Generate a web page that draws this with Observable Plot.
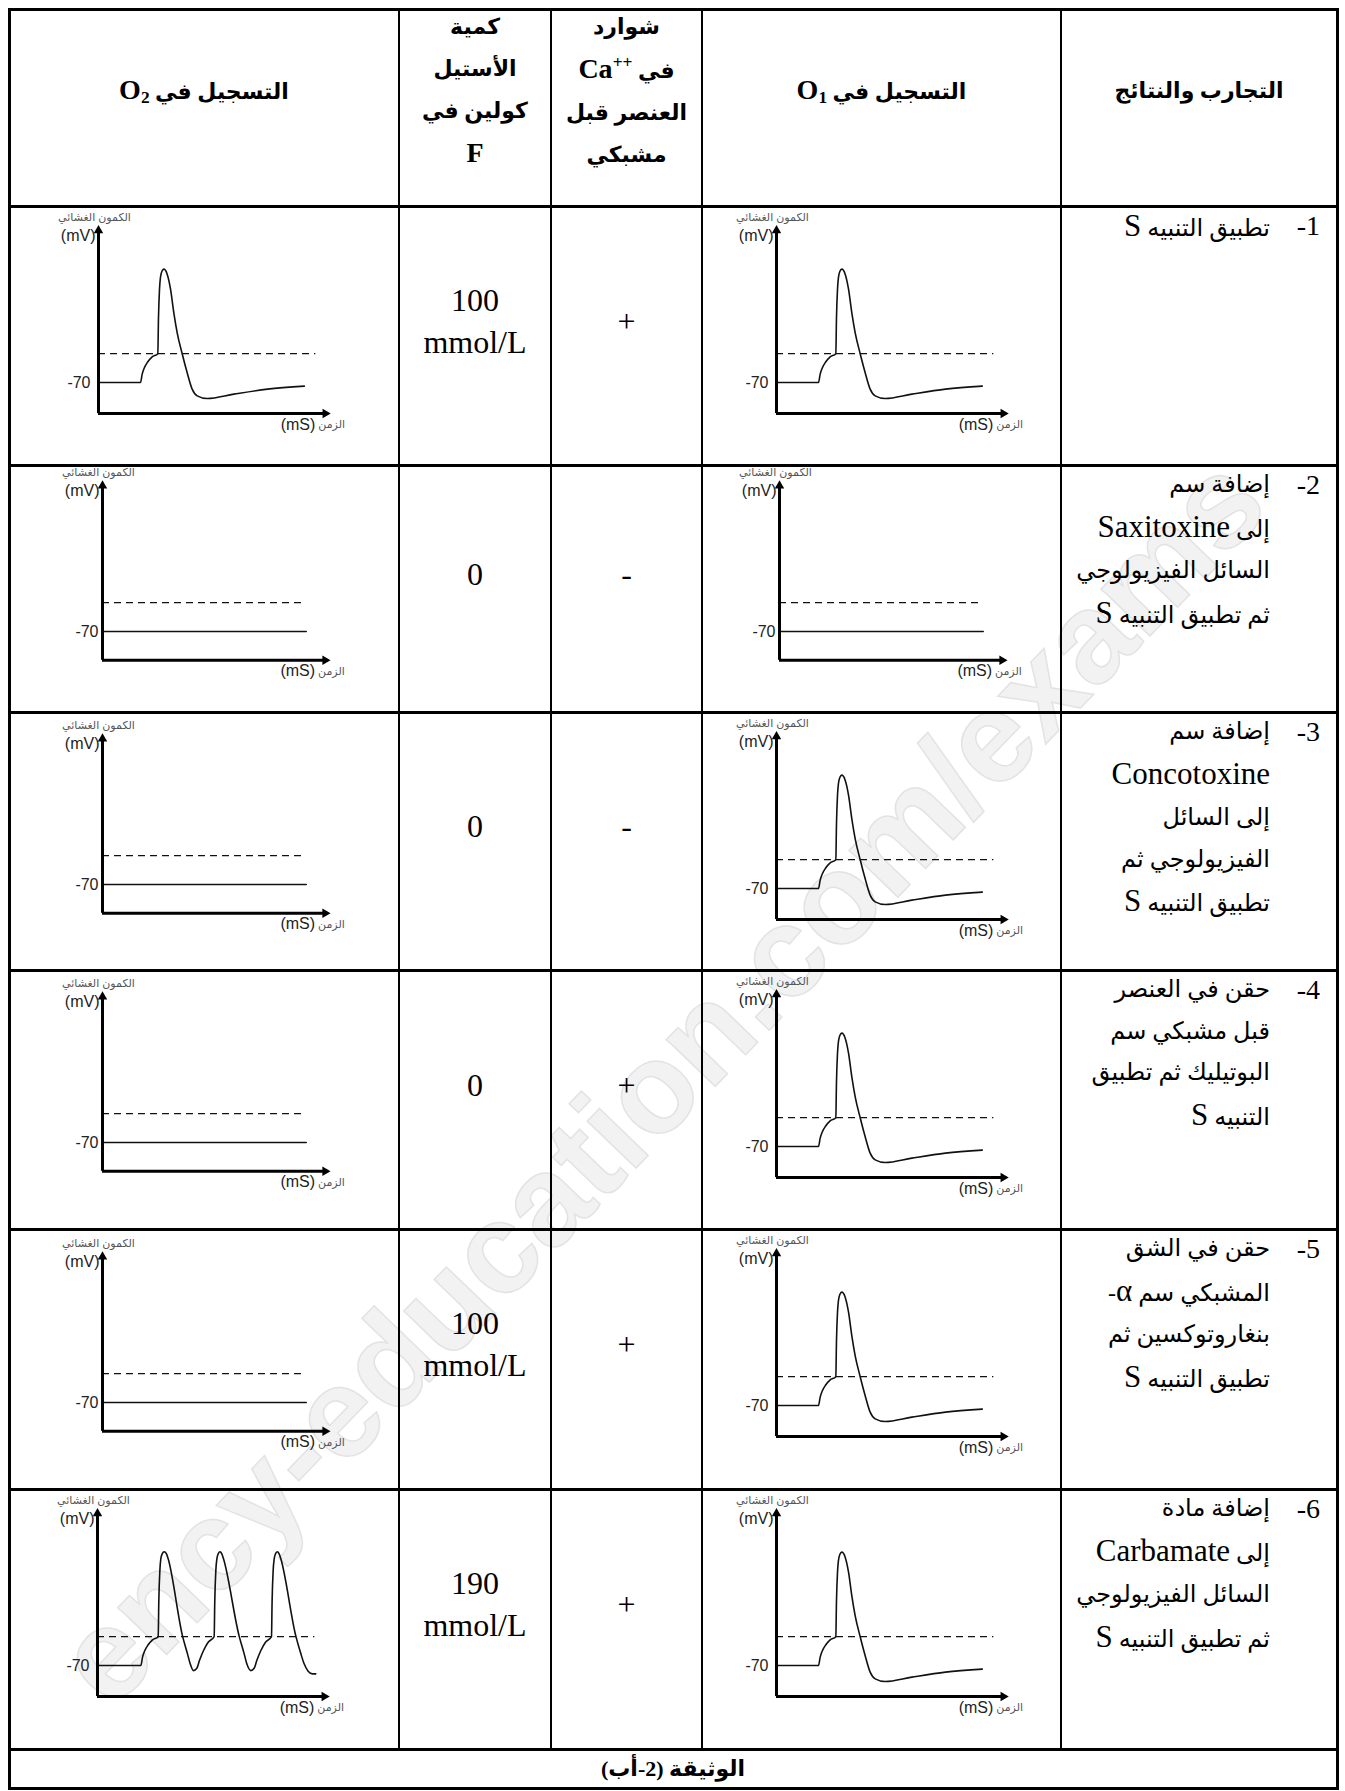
<!DOCTYPE html>
<html lang="ar">
<head>
<meta charset="utf-8">
<script src="https://cdn.jsdelivr.net/npm/d3@7"></script>
<script src="https://cdn.jsdelivr.net/npm/@observablehq/plot@0.6"></script>
<style>
html,body{margin:0;padding:0;background:#fff;}
#page{position:relative;width:1345px;height:1791px;overflow:hidden;background:#fff;
  font-family:"Liberation Serif","DejaVu Sans",serif;color:#000;}
.ln{position:absolute;background:#000;}
.box{position:absolute;box-sizing:border-box;display:flex;flex-direction:column;align-items:center;justify-content:center;text-align:center;}
.box > div{display:block;}
.hdr{font-weight:bold;font-size:22px;line-height:42px;direction:rtl;}
.hdr .lat{font-size:28px;}
.mid{font-size:32px;line-height:42px;}
.exp{position:absolute;direction:rtl;text-align:right;font-size:24px;line-height:41.5px;white-space:nowrap;}
.exp .lat{font-size:31px;}
.num{position:absolute;font-size:28px;line-height:41.5px;direction:ltr;}
.chart{position:absolute;}
.foot{font-weight:bold;font-size:22px;direction:rtl;}
.wm{position:absolute;left:660px;top:1080px;transform:translate(-50%,-50%) rotate(-46deg);
  font-family:"Liberation Sans",sans-serif;font-weight:bold;font-size:128px;line-height:1;white-space:nowrap;
  color:#f2f2f2;-webkit-text-stroke:1.5px #e3e3e3;}
sub{font-size:62%;vertical-align:-0.22em;line-height:0;}
sup{font-size:62%;vertical-align:0.6em;line-height:0;}
</style>
</head>
<body>
<div id="page"></div>
<script>
// ---------------- data ----------------
const headerCells = [
  "التسجيل في <span class=\"lat\">O<sub>2</sub></span>",
  "كمية<br>الأستيل<br>كولين في<br><span class=\"lat\">F</span>",
  "شوارد<br>في <span dir=\"ltr\" class=\"lat\">Ca<sup>++</sup></span><br>العنصر قبل<br>مشبكي",
  "التسجيل في <span class=\"lat\">O<sub>1</sub></span>",
  "التجارب والنتائج"
];
const experimentNumbers = ["-1", "-2", "-3", "-4", "-5", "-6"];
const experimentLines = [
  ["تطبيق التنبيه S"],
  ["إضافة سم", "إلى Saxitoxine", "السائل الفيزيولوجي", "ثم تطبيق التنبيه S"],
  ["إضافة سم", "Concotoxine", "إلى السائل", "الفيزيولوجي ثم", "تطبيق التنبيه S"],
  ["حقن في العنصر", "قبل مشبكي سم", "البوتيليك ثم تطبيق", "التنبيه S"],
  ["حقن في الشق", "المشبكي سم α-", "بنغاروتوكسين ثم", "تطبيق التنبيه S"],
  ["إضافة مادة", "إلى Carbamate", "السائل الفيزيولوجي", "ثم تطبيق التنبيه S"]
];
const calciumIons = ["+", "-", "-", "+", "+", "+"];
const acetylcholine = [["100", "mmol/L"], ["0"], ["0"], ["0"], ["100", "mmol/L"], ["190", "mmol/L"]];
const recordingO1 = ["ap", "flat", "ap", "ap", "ap", "ap"];
const recordingO2 = ["ap", "flat", "flat", "flat", "flat", "train"];
const footerText = "الوثيقة (2-أب)";
const watermarkText = "ency-education.com/exams";

const restingPotential = -70;
const thresholdPotential = -44.5;
const restLabel = "-70";
const yAxisTitle = "الكمون الغشائي";
const yAxisUnit = "(mV)";
const xAxisTitle = "الزمن";
const xAxisUnit = "(mS)";

// [time (ms, schematic), membrane potential (mV)]
const singleSpike = [
  [0, -70], [4.0, -70], [4.16, -62.6], [4.38, -56.7], [4.7, -51.7], [5.11, -47.3], [5.65, -44.5],
  [5.71, -14], [5.81, 12.6], [5.9, 22.9], [6.03, 28.2], [6.22, 30.3], [6.54, 25.9], [6.86, 12.6],
  [7.17, -8.1], [7.49, -25.8], [7.97, -44.6], [8.44, -61.2], [8.92, -75.9], [9.4, -81.8],
  [10.35, -84.2], [12.89, -80.3], [16.1, -75.9], [19.6, -73.2]
];
const spikeTrain = [
  [0, -70], [4.13, -70], [4.29, -62.6], [4.51, -56.7], [4.83, -51.7], [5.24, -47.3], [5.78, -44.5],
  [5.84, -12.5], [5.94, 14.1], [6.03, 24.4], [6.16, 28.8], [6.35, 30.6], [6.57, 28.8], [6.73, 24.4],
  [8.1, -44], [8.57, -59.7], [8.83, -68.5], [9.14, -74.5], [9.46, -72.5], [9.71, -65.6], [10.1, -56.7],
  [10.54, -49.4], [11.11, -44.5],
  [11.17, -12.5], [11.27, 14.1], [11.37, 24.4], [11.49, 28.8], [11.65, 30.6], [11.84, 28.8], [12.0, 24.4],
  [13.49, -44], [13.97, -59.7], [14.22, -68.5], [14.6, -74.5], [14.92, -72.5], [15.17, -65.6], [15.56, -56.7],
  [16.0, -49.4], [16.57, -44.5],
  [16.63, -12.5], [16.73, 14.1], [16.83, 24.4], [16.95, 28.8], [17.11, 30.6], [17.3, 28.8], [17.46, 24.4],
  [18.89, -44], [19.37, -59.7], [19.68, -68.5], [20.06, -75], [20.48, -77.4], [20.79, -77.4]
];
const flatTrace = [[0, -70], [19.4, -70]];

// ---------------- layout ----------------
const colX = [9, 399, 551, 702, 1061, 1337];
const rowY = [9, 206, 465, 712, 970, 1229, 1489, 1749, 1788];
const K = 1.13;   // px per mV
const SX = 10.5;  // px per ms
const AP_T = {yTop: 64.5, yBottom: -97.5, xEnd: 21.6, dashEnd: 20.7, tickDx: -8};
const FLAT_T = {yTop: 59, yBottom: -95.5, xEnd: 21.2, dashEnd: 19.4, tickDx: -4};
const flatRest = [0, 166, 172, 172, 173, 0];

const page = document.getElementById("page");
function add(cls, css, html) {
  const d = document.createElement("div");
  d.className = cls;
  Object.assign(d.style, css);
  if (html != null) d.innerHTML = html;
  page.appendChild(d);
  return d;
}
function latin(s) {
  return s.replace(/α/g, "<span class=\"lat\">α</span>")
          .replace(/(^|[\s])([A-Za-z]+)(?=$|[\s])/g, "$1<span class=\"lat\">$2</span>");
}

function recording(kind, trace, w, h, ax, ry) {
  const tpl = kind === "flat" ? FLAT_T : AP_T;
  const lab = {fontFamily: "Liberation Sans, Arial, DejaVu Sans, sans-serif"};
  return Plot.plot({
    width: w, height: h, margin: 0,
    style: {background: "transparent", overflow: "visible"},
    x: {domain: [0, 22], range: [ax, ax + 22 * SX], axis: null},
    y: {domain: [-100, 70], range: [ry + 30 * K, ry - 140 * K], axis: null},
    marks: [
      Plot.ruleY([thresholdPotential], {x1: 0, x2: tpl.dashEnd, stroke: "#111", strokeWidth: 1.2, strokeDasharray: "7,5"}),
      Plot.line(trace, {x: d => d[0], y: d => d[1], curve: "monotone-x", stroke: "#111", strokeWidth: 1.6}),
      Plot.ruleX([0], {y1: tpl.yBottom, y2: tpl.yTop, stroke: "#000", strokeWidth: 3}),
      Plot.ruleY([tpl.yBottom], {x1: 0, x2: tpl.xEnd, stroke: "#000", strokeWidth: 3}),
      Plot.dot([tpl.yTop], {x: 0, y: d => d, symbol: "triangle", r: 3.5, fill: "#000", stroke: "none"}),
      Plot.dot([tpl.xEnd], {x: d => d, y: tpl.yBottom, symbol: "triangle", r: 3.5, fill: "#000", stroke: "none", rotate: 90}),
      Plot.text([yAxisTitle], {x: 0, y: tpl.yTop, text: d => d, dx: -4, dy: -13, fontSize: 11, fill: "#555", textAnchor: "middle", ...lab}),
      Plot.text([yAxisUnit], {x: 0, y: tpl.yTop, text: d => d, dx: -3, dy: 5, fontSize: 16, fill: "#222", textAnchor: "end", ...lab}),
      Plot.text([restLabel], {x: 0, y: restingPotential, text: d => d, dx: tpl.tickDx, fontSize: 16, fill: "#222", textAnchor: "end", ...lab}),
      Plot.text([xAxisUnit], {x: tpl.xEnd, y: tpl.yBottom, text: d => d, dx: -10, dy: 11, fontSize: 16, fill: "#222", textAnchor: "end", ...lab}),
      Plot.text([xAxisTitle], {x: tpl.xEnd, y: tpl.yBottom, text: d => d, dx: -7, dy: 11, fontSize: 11, fill: "#555", textAnchor: "start", ...lab})
    ]
  });
}

function traceFor(kind) {
  return kind === "ap" ? singleSpike : kind === "train" ? spikeTrain : flatTrace;
}

function placeChart(kind, col, r, axRel, restRel) {
  const left = colX[col] + 2, top = rowY[r + 1] + 2;
  const w = colX[col + 1] - colX[col] - 4, h = rowY[r + 2] - rowY[r + 1] - 4;
  const holder = add("chart", {left: left + "px", top: top + "px", width: w + "px", height: h + "px"});
  holder.appendChild(recording(kind, traceFor(kind), w, h, axRel - 2, restRel - 2));
}

// faint background watermark of the source page
add("wm", {}, watermarkText);

// header
headerCells.forEach((html, c) => {
  add("box hdr", {
    left: colX[c] + "px", top: rowY[0] + "px",
    width: (colX[c + 1] - colX[c]) + "px", height: (rowY[1] - rowY[0]) + "px",
    paddingBottom: "34px"
  }, "<div>" + html + "</div>");
});

// rows
for (let r = 0; r < 6; r++) {
  const top = rowY[r + 1], h = rowY[r + 2] - rowY[r + 1];
  const k2 = recordingO2[r];
  placeChart(k2, 0, r, k2 === "flat" ? 93 : k2 === "train" ? 88 : 89, k2 === "flat" ? flatRest[r] : 176);
  add("box mid", {left: colX[1] + "px", top: top + "px", width: (colX[2] - colX[1]) + "px", height: h + "px", paddingBottom: "30px"},
    "<div>" + acetylcholine[r].join("<br>") + "</div>");
  add("box mid", {left: colX[2] + "px", top: top + "px", width: (colX[3] - colX[2]) + "px", height: h + "px", paddingBottom: "30px"},
    "<div>" + calciumIons[r] + "</div>");
  const k1 = recordingO1[r];
  placeChart(k1, 3, r, k1 === "flat" ? 77 : 74, k1 === "flat" ? flatRest[r] : 176);
  add("num", {right: (1345 - 1320) + "px", top: (top - 1) + "px"}, experimentNumbers[r]);
  add("exp", {right: (1345 - 1270) + "px", top: (top - 1) + "px"},
    experimentLines[r].map(s => "<div>" + latin(s) + "</div>").join(""));
}

// footer
add("box foot", {left: colX[0] + "px", top: rowY[7] + "px", width: (colX[5] - colX[0]) + "px", height: (rowY[8] - rowY[7]) + "px"},
  "<div>" + footerText + "</div>");

// grid lines
rowY.forEach(y => add("ln", {left: (colX[0] - 1.5) + "px", top: (y - 1.5) + "px", width: (colX[5] - colX[0] + 3) + "px", height: "3px"}));
colX.forEach((x, i) => {
  const outer = i === 0 || i === colX.length - 1;
  const w = outer ? 3 : 2;
  const y2 = outer ? rowY[8] : rowY[7];
  add("ln", {left: (x - w / 2) + "px", top: (rowY[0] - 1.5) + "px", width: w + "px", height: (y2 - rowY[0] + 3) + "px"});
});
</script>
</body>
</html>
